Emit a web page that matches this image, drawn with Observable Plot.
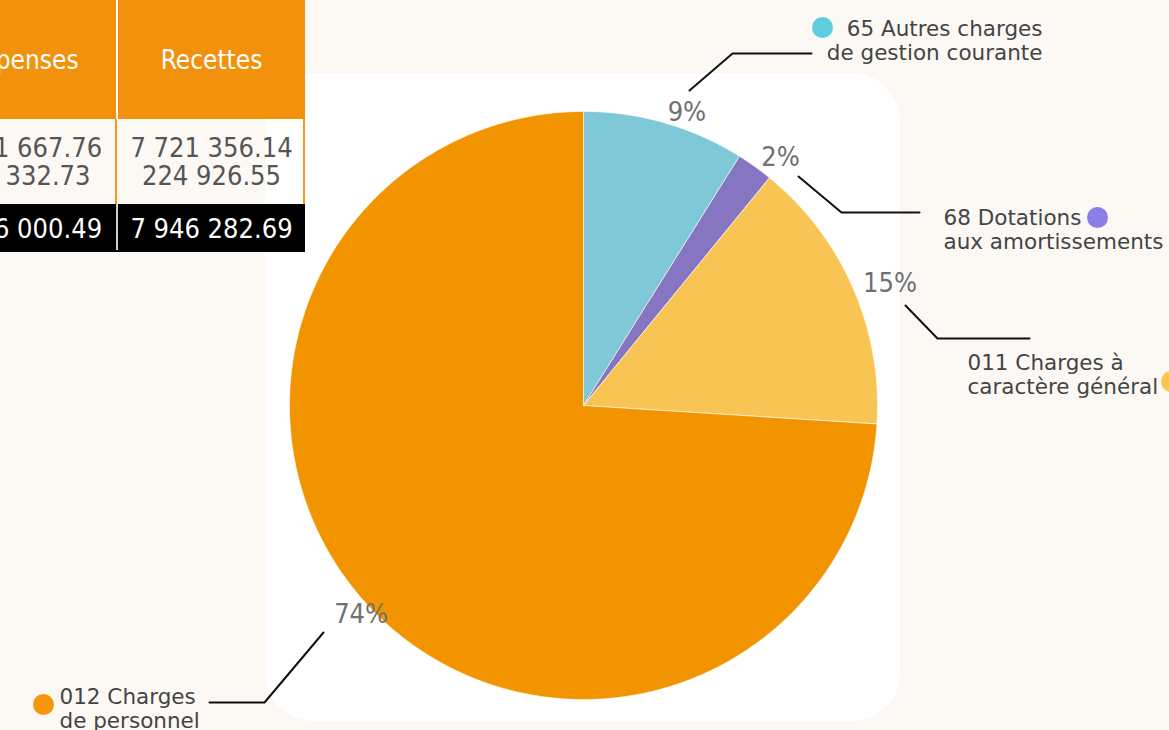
<!DOCTYPE html>
<html><head><meta charset="utf-8">
<script src="https://cdn.jsdelivr.net/npm/d3@7"></script>
<script src="https://cdn.jsdelivr.net/npm/@observablehq/plot@0.6"></script>
<style>
html,body{margin:0;padding:0;background:#fcf9f5;}
#wrap{position:relative;width:1169px;height:730px;overflow:hidden;background:#fcf9f5;}
#chart{position:absolute;left:0;top:0;}
#table{position:absolute;left:0;top:0;font-family:"DejaVu Sans Condensed","DejaVu Sans",sans-serif;}
.cell{position:absolute;display:flex;flex-direction:column;align-items:center;justify-content:center;text-align:center;white-space:nowrap;}
</style></head>
<body><div id="wrap"><div id="chart"></div><div id="table"></div></div>
<script>
// ---------- DATA ----------
const codes = ["65", "68", "011", "012"];
const labelLine1 = ["65 Autres charges", "68 Dotations", "011 Charges à", "012 Charges"];
const labelLine2 = ["de gestion courante", "aux amortissements", "caractère général", "de personnel"];
const shares = [8.9, 2.0, 15.1, 74.0];
const pctLabels = ["9%", "2%", "15%", "74%"];
const sliceColors = ["#7ec8d8", "#8676c1", "#f8c554", "#f29400"];
const dotColors = ["#5dcfdc", "#8a7ee9", "#fcc451", "#f7950a"];

const tableHeaders = ["Dépenses", "Recettes"];
const depenses = ["7 341 667.76", "604 332.73"];
const recettes = ["7 721 356.14", "224 926.55"];
const totals = ["7 946 000.49", "7 946 282.69"];

// ---------- LAYOUT ----------
const W = 1169, H = 730;
const cx = 583, cy = 405, R = 294, pctR = 305;
const panelPad = {left: 318, right: 317, top: 332, bottom: 316};
const callouts = [
  {anchor: "end",   tx: 1042, ty: 18,  dx: 822, dy: 27,  line: [[689, 90], [732, 53], [811, 53]]},
  {anchor: "start", tx: 943,  ty: 207, dx: 1097, dy: 217, line: [[798, 176], [841, 212], [919, 212]]},
  {anchor: "start", tx: 967,  ty: 352, dx: 1171, dy: 381, line: [[905, 305], [937, 338], [1029, 338]]},
  {anchor: "start", tx: 59,   ty: 686, dx: 43,  dy: 704, line: [[323, 632], [264, 702], [209, 702]]}
];

// ---------- TABLE (HTML) ----------
const T = document.getElementById("table");
function box(l, t, w, h, bg, extra) {
  const d = document.createElement("div");
  d.className = "cell";
  Object.assign(d.style, {left: l + "px", top: t + "px", width: w + "px", height: h + "px", background: bg}, extra || {});
  T.appendChild(d);
  return d;
}
const colL = [-74, 118], colW = [190, 187];

// ---------- CHART ----------
const arcs = d3.pie().sort(null).value(d => d)(shares);
const slicePts = [];
arcs.forEach((a, i) => {
  slicePts.push({i, x: cx, y: cy, color: sliceColors[i]});
  const n = Math.max(4, Math.ceil((a.endAngle - a.startAngle) / (Math.PI / 720)));
  for (let k = 0; k <= n; k++) {
    const t = a.startAngle + (a.endAngle - a.startAngle) * k / n;
    slicePts.push({i, x: cx + R * Math.sin(t), y: cy - R * Math.cos(t), color: sliceColors[i]});
  }
  slicePts.push({i, x: cx, y: cy, color: sliceColors[i]});
});

const pctData = arcs.map((a, i) => {
  const m = (a.startAngle + a.endAngle) / 2;
  return {text: pctLabels[i], x: cx + pctR * Math.sin(m), y: cy - pctR * Math.cos(m), right: Math.sin(m) >= 0};
});

const leaderPts = [];
callouts.forEach((c, i) => c.line.forEach(p => leaderPts.push({i, x: p[0], y: p[1]})));

const dots = callouts.map((c, i) => ({x: c.dx, y: c.dy, color: dotColors[i]}));
const legend = callouts.map((c, i) => ({x: c.tx, y: c.ty, text: labelLine1[i] + "\n" + labelLine2[i], anchor: c.anchor}));

const panel = [{x1: cx - panelPad.left, x2: cx + panelPad.right, y1: cy - panelPad.top, y2: cy + panelPad.bottom}];

const legendFont = {fontFamily: "DejaVu Sans, sans-serif", fontSize: 21.5, fill: "#444", lineHeight: 1.12, lineAnchor: "top"};
const pctFont = {fontFamily: "DejaVu Sans Condensed, DejaVu Sans, sans-serif", fontSize: 27, fill: "#707070", lineAnchor: "middle", ariaLabel: "pct"};

const chart = Plot.plot({
  width: W, height: H, margin: 0,
  x: {domain: [0, W], range: [0, W], axis: null},
  y: {domain: [0, H], range: [0, H], axis: null},
  color: {type: "identity"},
  style: {background: "transparent", overflow: "visible"},
  marks: [
    Plot.rect(panel, {x1: "x1", x2: "x2", y1: "y1", y2: "y2", fill: "#ffffff", rx: 48}),
    Plot.line(slicePts, {x: "x", y: "y", z: "i", fill: "color", stroke: "#ffffff", strokeWidth: 1, strokeOpacity: 0.6, curve: "linear"}),
    Plot.line(leaderPts, {x: "x", y: "y", z: "i", stroke: "#111", strokeWidth: 2}),
    Plot.text(pctData.filter(d => d.right), {x: "x", y: "y", text: "text", textAnchor: "start", ...pctFont}),
    Plot.text(pctData.filter(d => !d.right), {x: "x", y: "y", text: "text", textAnchor: "middle", ...pctFont}),
    Plot.dot(dots, {x: "x", y: "y", r: 10.5, fill: "color", stroke: null}),
    Plot.text(legend.filter(d => d.anchor === "end"), {x: "x", y: "y", text: "text", textAnchor: "end", ...legendFont}),
    Plot.text(legend.filter(d => d.anchor === "start"), {x: "x", y: "y", text: "text", textAnchor: "start", ...legendFont})
  ]
});
document.getElementById("chart").appendChild(chart);

// split percent labels: digits larger, "%" smaller
chart.querySelectorAll('g[aria-label="pct"] text').forEach(t => {
  const s = t.textContent;
  const num = s.replace("%", "");
  t.textContent = "";
  const ns = "http://www.w3.org/2000/svg";
  const a = document.createElementNS(ns, "tspan"); a.textContent = num;
  const b = document.createElementNS(ns, "tspan"); b.textContent = "%";
  b.setAttribute("font-size", "20"); b.setAttribute("fill", "#555"); b.setAttribute("dx", "2");
  t.appendChild(a); t.appendChild(b);
});

// table
box(-74, 0, 379, 119, "#ffffff");
tableHeaders.forEach((h, i) => { const d = box(colL[i], 0, colW[i], 119, "#f2920c", {color: "#fff", fontSize: "26px"}); d.textContent = h; });
[depenses, recettes].forEach((vals, i) => {
  const d = box(colL[i], 120, colW[i], 84, "transparent", {color: "#555", fontSize: "27px", lineHeight: "28px"});
  d.innerHTML = vals.join("<br>");
});
box(115, 119, 2, 86, "#f39a1e");
box(303, 119, 2, 86, "#f39a1e");
box(-74, 204, 379, 48, "#000000");
totals.forEach((v, i) => { const d = box(colL[i], 204, colW[i], 48, "transparent", {color: "#fff", fontSize: "27px"}); d.textContent = v; });
box(116, 204, 2, 46, "#cfcfcf");
</script>
</body></html>
